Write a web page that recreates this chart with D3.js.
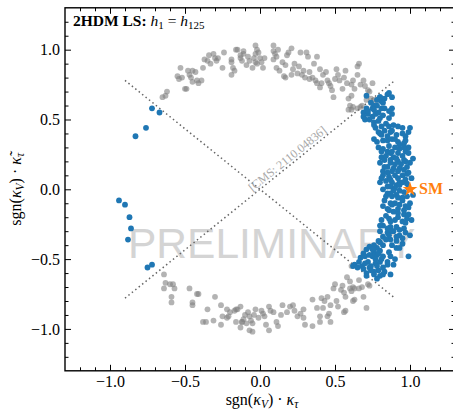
<!DOCTYPE html>
<html>
<head>
<meta charset="utf-8">
<script src="https://cdn.jsdelivr.net/npm/d3@7"></script>
<style>
  body { margin: 0; background: #fff; }
  svg { display: block; }
</style>
</head>
<body>
<div id="chart"></div>
<script>
const width = 453;
const height = 410;

// gray points, upper arc
const grayUpper = [
  [-0.65,0.66],[-0.63,0.67],[-0.62,0.70],[-0.53,0.87],[-0.55,0.81],[-0.54,0.79],[-0.52,0.80],[-0.50,0.72],[-0.49,0.72],
  [-0.48,0.85],[-0.47,0.82],[-0.46,0.80],[-0.45,0.85],[-0.45,0.77],[-0.43,0.84],[-0.42,0.78],[-0.41,0.76],[-0.39,0.78],
  [-0.38,0.87],[-0.37,0.93],[-0.35,0.92],[-0.34,0.96],[-0.33,0.90],[-0.31,0.97],[-0.30,0.94],[-0.29,0.92],[-0.28,0.94],
  [-0.25,0.87],[-0.24,0.98],[-0.19,0.93],[-0.19,0.91],[-0.18,0.87],[-0.17,0.85],[-0.19,0.82],[-0.16,1.00],[-0.15,1.00],
  [-0.13,0.96],[-0.13,0.94],[-0.12,0.92],[-0.11,0.99],[-0.11,0.97],[-0.09,0.89],[-0.08,0.95],[-0.07,0.92],[-0.05,0.87],
  [-0.03,1.03],[-0.02,1.00],[-0.03,0.97],[-0.01,0.98],[-0.04,0.94],[-0.03,0.91],[-0.02,0.90],[0.00,0.94],[0.01,0.91],
  [0.02,0.87],[0.03,0.94],[0.09,1.03],[0.09,0.99],[0.10,0.97],[0.11,0.95],[0.12,1.00],[0.09,0.93],[0.11,0.87],[0.13,0.85],
  [0.16,0.81],[0.17,0.80],[0.15,0.91],[0.17,0.89],[0.19,0.98],[0.18,0.96],[0.21,1.01],[0.21,0.82],[0.22,0.86],[0.23,0.90],
  [0.25,0.83],[0.26,0.88],[0.27,0.98],[0.28,0.82],[0.29,0.85],[0.30,0.80],[0.31,0.98],[0.32,0.95],[0.33,0.84],[0.33,0.79],
  [0.35,0.80],[0.36,0.90],[0.37,0.78],[0.38,0.95],[0.38,0.76],[0.40,0.86],[0.40,0.73],[0.41,0.76],[0.42,0.82],[0.44,0.84],
  [0.45,0.78],[0.46,0.76],[0.47,0.74],[0.48,0.71],[0.49,0.66],[0.50,0.79],[0.51,0.86],[0.52,0.82],[0.53,0.78],[0.55,0.72],
  [0.56,0.80],[0.57,0.85],[0.58,0.76],[0.59,0.65],[0.60,0.60],[0.61,0.75],[0.62,0.78],[0.63,0.72],[0.65,0.82],[0.61,0.67],
  [0.65,0.88],[0.66,0.90],[0.67,0.75],[0.69,0.78],[0.70,0.74],[0.71,0.64],[0.72,0.71],[0.73,0.70],[0.75,0.76],[0.76,0.64],
  [0.78,0.64],[0.59,0.57],[0.62,0.59],[0.65,0.58],[0.61,0.57],[0.67,0.59],[0.68,0.60],[0.74,0.65]
];

// gray points, lower arc
const grayLower = [
  [-0.64,-0.61],[-0.63,-0.67],[-0.60,-0.68],[-0.58,-0.68],[-0.64,-0.71],[-0.57,-0.71],[-0.59,-0.77],[-0.59,-0.81],
  [-0.47,-0.71],[-0.42,-0.75],[-0.41,-0.75],[-0.45,-0.81],[-0.45,-0.83],[-0.30,-0.77],[-0.35,-0.86],[-0.26,-0.83],
  [-0.38,-0.95],[-0.36,-0.95],[-0.31,-0.94],[-0.26,-0.97],[-0.22,-0.92],[-0.21,-0.91],[-0.16,-0.86],[-0.13,-0.84],
  [-0.16,-0.95],[-0.13,-0.99],[-0.12,-0.95],[-0.11,-0.93],[-0.09,-0.96],[-0.08,-0.88],[-0.07,-0.91],[-0.06,-0.94],
  [-0.07,-1.01],[-0.05,-1.02],[-0.04,-0.90],[-0.03,-0.86],[-0.01,-0.92],[0.01,-0.87],[0.02,-0.89],[0.03,-0.91],
  [0.06,-0.84],[0.07,-0.87],[0.09,-0.88],[0.06,-1.01],[0.11,-0.95],[0.12,-0.98],[-0.25,-0.91],[-0.22,-0.86],
  [-0.17,-0.87],[-0.15,-0.86],[-0.12,-0.95],[-0.05,-0.96],[-0.20,-0.88],[-0.10,-0.90],[0.04,-0.97],[0.14,-0.90],
  [0.18,-0.88],[0.15,-0.83],[0.20,-0.84],[0.22,-0.83],[0.23,-0.87],[0.25,-0.91],[0.27,-0.89],[0.29,-0.92],[0.29,-0.86],
  [0.30,-0.97],[0.35,-0.79],[0.35,-0.98],[0.38,-0.85],[0.40,-0.91],[0.40,-0.95],[0.41,-0.78],[0.42,-0.85],[0.43,-0.80],
  [0.45,-0.77],[0.45,-0.91],[0.46,-0.89],[0.47,-0.83],[0.47,-0.95],[0.49,-0.71],[0.50,-0.68],[0.51,-0.80],[0.52,-0.84],
  [0.54,-0.72],[0.55,-0.69],[0.56,-0.74],[0.56,-0.88],[0.57,-0.77],[0.58,-0.63],[0.60,-0.66],[0.60,-0.71],[0.62,-0.80],
  [0.63,-0.71],[0.66,-0.65],[0.66,-0.71],[0.68,-0.70],[0.69,-0.77],[0.71,-0.85],[0.72,-0.68],[0.73,-0.69],[0.61,-0.55],
  [0.63,-0.79],[0.61,-0.73],[0.62,-0.70],[0.57,-0.87]
];

// blue points, isolated ones on the left
const blueLeft = [
  [-0.72,0.58],[-0.67,0.55],[-0.76,0.44],[-0.83,0.38],[-0.94,-0.08],[-0.90,-0.11],
  [-0.87,-0.20],[-0.86,-0.28],[-0.88,-0.36],[-0.75,-0.56],[-0.72,-0.54]
];

// blue points, dense band on the right
const blueRight = [
  [0.85,0.68],[0.83,0.65],[0.81,0.63],[0.78,0.64],[0.76,0.60],[0.75,0.58],[0.71,0.58],[0.69,0.55],[0.69,0.52],[0.72,0.54],
  [0.75,0.52],[0.77,0.54],[0.79,0.55],[0.80,0.51],[0.76,0.48],[0.73,0.50],[0.82,0.53],[0.88,0.58],[0.88,0.54],[0.86,0.51],
  [0.81,0.58],[0.78,0.60],[0.71,0.67],[0.80,0.66],[0.86,0.69],[0.88,0.66],
  [0.77,0.44],[0.79,0.41],[0.76,0.36],[0.78,0.34],[0.81,0.39],[0.83,0.42],[0.86,0.45],[0.87,0.41],[0.89,0.46],[0.88,0.36],
  [0.85,0.35],[0.91,0.39],[0.92,0.34],[0.90,0.30],[0.95,0.40],[0.97,0.38],[0.99,0.41],[1.00,0.44],[0.96,0.33],[0.93,0.29],
  [0.82,0.29],[0.79,0.30],[0.85,0.27],[0.87,0.26],[0.81,0.23],[0.83,0.21],[0.89,0.23],[0.92,0.26],[0.97,0.27],[0.99,0.30],
  [1.00,0.19],[0.96,0.21],[0.92,0.20],[0.87,0.19],[0.85,0.16],[0.89,0.15],[0.93,0.15],[0.98,0.16],[0.82,0.10],[0.86,0.09],
  [0.88,0.05],[0.90,0.10],[0.95,0.10],[0.98,0.11],[0.97,0.07],[0.93,0.05],[0.91,0.03],[0.87,0.02],[0.81,0.08],
  [0.90,0.01],[0.93,-0.01],[0.85,-0.03],[0.88,-0.05],[0.91,-0.04],[0.95,-0.06],[0.98,-0.05],[1.00,-0.10],[0.83,-0.08],
  [0.87,-0.10],[0.90,-0.10],[0.93,-0.11],[0.97,-0.12],[0.85,-0.14],[0.89,-0.16],[0.92,-0.17],[0.96,-0.18],[0.99,-0.18],
  [0.81,-0.22],[0.86,-0.21],[0.90,-0.22],[0.95,-0.23],[0.98,-0.21],[0.82,-0.26],[0.87,-0.27],[0.91,-0.27],[0.96,-0.28],
  [0.80,-0.30],[0.85,-0.31],[0.89,-0.30],[0.93,-0.33],[1.00,-0.33],[0.87,-0.36],[0.91,-0.37],[0.95,-0.39],[0.79,-0.37],
  [0.82,-0.40],[0.78,-0.42],[0.76,-0.45],[0.73,-0.41],[0.71,-0.43],[0.69,-0.46],[0.70,-0.48],[0.75,-0.48],[0.78,-0.47],
  [0.82,-0.48],[0.87,-0.48],[0.91,-0.42],[0.99,-0.48],[0.67,-0.49],[0.72,-0.52],[0.77,-0.53],[0.80,-0.52],[0.85,-0.54],
  [0.89,-0.54],[0.63,-0.54],[0.68,-0.55],[0.73,-0.56],[0.79,-0.58],[0.83,-0.59],[0.71,-0.60],[0.76,-0.61],[0.80,-0.62],
  [0.87,-0.61],[0.62,-0.55],
  [0.80,0.66],[0.82,0.62],[0.76,0.57],[0.72,0.56],[0.70,0.50],[0.79,0.49],[0.84,0.47],[0.81,0.45],[0.76,0.46],[0.86,0.56],
  [0.83,0.58],[0.74,0.62],[0.80,0.40],[0.82,0.35],[0.85,0.38],[0.88,0.42],[0.92,0.45],[0.95,0.44],[0.90,0.36],[0.93,0.32],
  [0.97,0.35],[0.86,0.31],[0.81,0.27],[0.84,0.24],[0.88,0.27],[0.91,0.22],[0.95,0.24],[0.99,0.26],[0.96,0.30],[0.80,0.19],
  [0.83,0.16],[0.87,0.21],[0.90,0.18],[0.94,0.18],[0.97,0.20],[1.02,0.22],[0.82,0.13],[0.85,0.12],[0.88,0.13],[0.92,0.13],
  [0.96,0.14],[0.99,0.12],[0.80,0.05],[0.84,0.06],[0.87,0.07],[0.92,0.08],[0.95,0.05],[0.98,0.04],[1.01,0.08],[0.82,0.00],
  [0.85,0.02],[0.89,-0.01],[0.93,0.03],[0.96,-0.02],[0.99,0.01],[0.84,-0.05],[0.87,-0.03],[0.92,-0.06],[0.95,-0.08],
  [1.02,-0.04],[0.82,-0.12],[0.86,-0.15],[0.88,-0.11],[0.92,-0.14],[0.96,-0.15],[0.99,-0.13],[0.84,-0.19],[0.87,-0.23],
  [0.92,-0.20],[0.97,-0.24],[1.01,-0.22],[0.80,-0.26],[0.85,-0.28],[0.88,-0.30],[0.93,-0.29],[0.97,-0.31],[0.82,-0.34],
  [0.86,-0.33],[0.91,-0.34],[0.95,-0.35],[0.80,-0.38],[0.84,-0.36],[0.88,-0.40],[0.93,-0.42],[0.86,-0.45],[0.80,-0.44],
  [0.76,-0.40],[0.73,-0.47],[0.77,-0.50],[0.81,-0.50],[0.85,-0.52],[0.90,-0.50],[0.70,-0.53],[0.74,-0.55],[0.78,-0.55],
  [0.82,-0.56],[0.66,-0.52],[0.69,-0.57],[0.76,-0.59],[0.82,-0.61],[0.71,-0.62],[0.78,-0.64],[0.74,-0.58],[0.65,-0.56],
  [0.75,-0.43],[0.79,-0.46]
];

// SM point and the two dotted reference lines
const smPoint = [1.0, 0.0];
const crossLines = [
  [[-0.9, 0.78], [0.9, -0.78]],
  [[-0.9, -0.78], [0.9, 0.78]]
];

const xDomain = [-1.3, 1.3];
const yDomain = [-1.3, 1.3];
const majorTicks = [-1.0, -0.5, 0.0, 0.5, 1.0];
const minorTicks = d3.range(-12, 13).map((i)=>i / 10).filter((v)=>Math.abs(v * 2 - Math.round(v * 2)) > 1e-6);

const margin = {left: 65, top: 7.8, right: -2, bottom: 39.2};
const x = d3.scaleLinear().domain(xDomain).range([margin.left, width - margin.right]);
const y = d3.scaleLinear().domain(yDomain).range([height - margin.bottom, margin.top]);

const serif = '"Liberation Serif", "DejaVu Serif", serif';
const fmt = (d)=>d3.format('.1f')(d).replace('-', '\u2212');

const svg = d3.select('#chart').append('svg')
  .attr('width', width)
  .attr('height', height)
  .attr('viewBox', [0, 0, width, height]);

// watermark
svg.append('text')
  .attr('x', 128)
  .attr('y', 258)
  .attr('font-family', '"Liberation Sans", Arial, sans-serif')
  .attr('font-size', 42.5)
  .attr('fill', '#d4d4d4')
  .text('PRELIMINARY');

// dotted reference lines
svg.append('g')
  .selectAll('line')
  .data(crossLines)
  .join('line')
  .attr('x1', (d)=>x(d[0][0]))
  .attr('y1', (d)=>y(d[0][1]))
  .attr('x2', (d)=>x(d[1][0]))
  .attr('y2', (d)=>y(d[1][1]))
  .attr('stroke', '#666')
  .attr('stroke-width', 1.5)
  .attr('stroke-dasharray', '1.5,2.9');

// reference label along the rising line
const rise = crossLines[1];
const angle = Math.atan2(y(rise[1][1]) - y(rise[0][1]), x(rise[1][0]) - x(rise[0][0])) * 180 / Math.PI;
svg.append('text')
  .attr('transform', `translate(${x(-0.05)},${y(-0.02)}) rotate(${angle})`)
  .attr('font-family', serif)
  .attr('font-size', 12)
  .attr('fill', '#a8a8a8')
  .text('[CMS: 2110.04836]');

// scatter
const r = 2.9;
svg.append('g')
  .attr('fill', '#808080')
  .attr('fill-opacity', 0.6)
  .selectAll('circle')
  .data(grayUpper.concat(grayLower))
  .join('circle')
  .attr('cx', (d)=>x(d[0]))
  .attr('cy', (d)=>y(d[1]))
  .attr('r', r);

svg.append('g')
  .attr('fill', '#1f77b4')
  .selectAll('circle')
  .data(blueRight.concat(blueLeft))
  .join('circle')
  .attr('cx', (d)=>x(d[0]))
  .attr('cy', (d)=>y(d[1]))
  .attr('r', r);

// SM star
svg.append('path')
  .attr('d', d3.symbol().type(d3.symbolStar).size(68)())
  .attr('transform', `translate(${x(smPoint[0])},${y(smPoint[1])})`)
  .attr('fill', '#ff7f0e');
svg.append('text')
  .attr('x', x(smPoint[0]) + 9)
  .attr('y', y(smPoint[1]) + 5)
  .attr('font-family', serif)
  .attr('font-weight', 'bold')
  .attr('font-size', 16)
  .attr('fill', '#ff7f0e')
  .text('SM');

// axes: inward ticks on all four sides
function styleAxis(g) {
  g.select('.domain').remove();
  g.selectAll('line').attr('stroke', '#000').attr('stroke-width', 1);
  g.selectAll('text').attr('font-family', serif).attr('font-size', 16).attr('fill', '#000');
}
const yBottom = height - margin.bottom;
const xRight = width - margin.right;

svg.append('g').attr('transform', `translate(0,${yBottom})`)
  .call(d3.axisBottom(x).tickValues(majorTicks).tickSize(-6).tickPadding(5).tickFormat(fmt)).call(styleAxis);
svg.append('g').attr('transform', `translate(0,${yBottom})`)
  .call(d3.axisBottom(x).tickValues(minorTicks).tickSize(-3.5).tickFormat('')).call(styleAxis);
svg.append('g').attr('transform', `translate(0,${margin.top})`)
  .call(d3.axisTop(x).tickValues(majorTicks).tickSize(-6).tickFormat('')).call(styleAxis);
svg.append('g').attr('transform', `translate(0,${margin.top})`)
  .call(d3.axisTop(x).tickValues(minorTicks).tickSize(-3.5).tickFormat('')).call(styleAxis);

svg.append('g').attr('transform', `translate(${margin.left},0)`)
  .call(d3.axisLeft(y).tickValues(majorTicks).tickSize(-6).tickPadding(5).tickFormat(fmt)).call(styleAxis);
svg.append('g').attr('transform', `translate(${margin.left},0)`)
  .call(d3.axisLeft(y).tickValues(minorTicks).tickSize(-3.5).tickFormat('')).call(styleAxis);
svg.append('g').attr('transform', `translate(${xRight},0)`)
  .call(d3.axisRight(y).tickValues(majorTicks).tickSize(-6).tickFormat('')).call(styleAxis);
svg.append('g').attr('transform', `translate(${xRight},0)`)
  .call(d3.axisRight(y).tickValues(minorTicks).tickSize(-3.5).tickFormat('')).call(styleAxis);

// frame
svg.append('rect')
  .attr('x', margin.left)
  .attr('y', margin.top)
  .attr('width', xRight - margin.left)
  .attr('height', yBottom - margin.top)
  .attr('fill', 'none')
  .attr('stroke', '#000')
  .attr('stroke-width', 1.4);

// title
const title = svg.append('text')
  .attr('x', 73)
  .attr('y', 26)
  .attr('font-family', serif)
  .attr('font-size', 15.5)
  .attr('fill', '#000');
title.append('tspan').attr('font-weight', 'bold').text('2HDM LS: ');
title.append('tspan').attr('font-style', 'italic').text('h');
title.append('tspan').attr('font-size', 11).attr('dy', 3).text('1');
title.append('tspan').attr('dy', -3).text(' = ');
title.append('tspan').attr('font-style', 'italic').text('h');
title.append('tspan').attr('font-size', 11).attr('dy', 3).text('125');

// axis labels
function mathLabel(sel, tilde) {
  sel.append('tspan').text('sgn(');
  sel.append('tspan').attr('font-style', 'italic').text('\u03ba');
  sel.append('tspan').attr('font-size', 11.5).attr('font-style', 'italic').attr('dy', 3).text('V');
  sel.append('tspan').attr('dy', -3).text(') \u00b7 ');
  sel.append('tspan').attr('font-style', 'italic').text(tilde ? '\u03ba\u0303' : '\u03ba');
  sel.append('tspan').attr('font-size', 11.5).attr('font-style', 'italic').attr('dy', 3).text('\u03c4');
}

svg.append('text')
  .attr('x', (margin.left + xRight) / 2 + 2)
  .attr('y', 405)
  .attr('text-anchor', 'middle')
  .attr('font-family', serif)
  .attr('font-size', 16)
  .attr('fill', '#000')
  .call((s)=>mathLabel(s, false));

svg.append('text')
  .attr('transform', `translate(21,${y(0)}) rotate(-90)`)
  .attr('text-anchor', 'middle')
  .attr('font-family', serif)
  .attr('font-size', 16)
  .attr('fill', '#000')
  .call((s)=>mathLabel(s, true));
</script>
</body>
</html>
